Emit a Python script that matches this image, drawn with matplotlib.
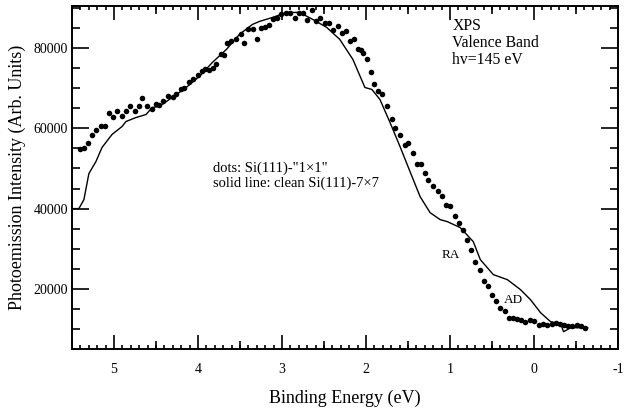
import matplotlib
matplotlib.use("Agg")
import matplotlib.pyplot as plt
from matplotlib.ticker import MultipleLocator, NullFormatter

plt.rcParams["font.family"] = ["Liberation Serif", "DejaVu Serif"]
plt.rcParams["axes.unicode_minus"] = False

# clean Si(111)-7x7, solid line
line_e = [5.51, 5.418, 5.358, 5.299, 5.215, 5.143, 5.024, 4.904, 4.857, 4.737,
          4.618, 4.546, 4.462, 4.307, 4.140, 3.984, 3.829, 3.662, 3.507, 3.351,
          3.268, 3.112, 2.945, 2.790, 2.634, 2.467, 2.312, 2.156, 2.013, 1.930,
          1.834, 1.714, 1.595, 1.476, 1.356, 1.237, 1.117, 1.033, 0.878, 0.723,
          0.639, 0.484, 0.317, 0.161, 0.042, -0.078, -0.197, -0.317, -0.352,
          -0.436, -0.556, -0.639]
line_i = [40000, 40000, 42250, 48740, 51730, 55225, 58470, 60470, 61720, 62710,
          63460, 65200, 65450, 67700, 70200, 72940, 76430, 79680, 83420, 85920,
          86660, 87660, 88900, 88900, 87160, 85160, 82170, 77180, 70190, 69700,
          67200, 61460, 55470, 49230, 42990, 38990, 37250, 36760, 35260, 31770,
          27280, 23540, 22290, 19800, 17300, 14060, 11810, 11310, 9320,
          10310, 10310, 10310]

# Si(111)-"1x1", dots
dot_e = [5.406, 5.358, 5.307, 5.259, 5.209, 5.159, 5.108, 5.060, 5.008, 4.961,
         4.908, 4.860, 4.805, 4.755, 4.705, 4.662, 4.602, 4.550, 4.502, 4.462,
         4.411, 4.355, 4.303, 4.256, 4.203, 4.164, 4.104, 4.065, 4.005, 3.952,
         3.913, 3.865, 3.817, 3.785, 3.725, 3.686, 3.658, 3.606, 3.546, 3.487,
         3.447, 3.407, 3.348, 3.300, 3.247, 3.208, 3.157, 3.109, 3.056, 3.008,
         2.949, 2.909, 2.849, 2.798, 2.750, 2.698, 2.638, 2.599, 2.551, 2.491,
         2.440, 2.392, 2.339, 2.291, 2.240, 2.192, 2.141, 2.093, 2.061, 2.037,
         1.993, 1.945, 1.902, 1.854, 1.806, 1.754, 1.694, 1.655, 1.595, 1.535,
         1.496, 1.443, 1.388, 1.348, 1.296, 1.257, 1.197, 1.145, 1.097, 1.045,
         0.998, 0.946, 0.898, 0.846, 0.798, 0.747, 0.699, 0.648, 0.600, 0.547,
         0.500, 0.448, 0.400, 0.349, 0.301, 0.249, 0.201, 0.149, 0.102, 0.050,
         0.002, -0.057, -0.110, -0.158, -0.209, -0.257, -0.308, -0.356, -0.409,
         -0.456, -0.508, -0.556, -0.607]
dot_i = [54850, 55225, 56470, 58470, 59630, 60640, 60640, 63880, 62880, 64210,
         62960, 64210, 65650, 64210, 65700, 67450, 65530, 64950, 66200, 65950,
         66780, 68020, 67770, 68450, 69870, 70120, 71520, 72190, 73260, 74260,
         74860, 74510, 75110, 75930, 78600, 78250, 81350, 81750, 82350, 83420,
         81350, 84670, 84670, 82170, 85090, 85340, 85660, 87160, 87410, 88410,
         88830, 88830, 87580, 88830, 88660, 86990, 89480, 86740, 87580, 86340,
         86160, 84420, 85490, 83840, 84170, 81750, 82350, 79850, 79430, 78680,
         77180, 74010, 70940, 69270, 68620, 65530, 62390, 60140, 58470, 55980,
         56400, 53900, 51230, 51230, 48910, 47240, 45570, 44320, 43080, 41000,
         40580, 38080, 36440, 34760, 32270, 29780, 26610, 24610, 21870, 20790,
         18540, 16870, 15220, 14380, 12730, 12730, 12480, 12310, 11640, 12310,
         11890, 11060, 11310, 11060, 11310, 11490, 11310, 10890, 10640,
         10640, 10890, 10640, 10240]

half_ticks = [5.5, 4.5, 3.5, 2.5, 1.5, 0.5, -0.5]

fig = plt.figure(figsize=(6.25, 4.15), dpi=100)
ax = fig.add_axes([0.1152, 0.159, 0.8736, 0.8265])

ax.plot(line_e, line_i, color="black", lw=1.0)
ax.plot(dot_e, dot_i, "o", color="black", ms=4.0, mec="none")

ax.set_xlim(5.5, -1)
ax.set_ylim(5000, 90500)

ax.xaxis.set_major_locator(MultipleLocator(1))
ax.xaxis.set_minor_locator(MultipleLocator(0.1))
ax.yaxis.set_major_locator(MultipleLocator(20000))
ax.yaxis.set_minor_locator(MultipleLocator(5000))
ax.tick_params(which="both", direction="in", top=True, right=True, width=1.2)
ax.tick_params(axis="x", which="major", length=10, labelsize=10, pad=10)
ax.tick_params(axis="x", which="minor", length=3)
ax.tick_params(axis="y", which="major", length=12, labelsize=10, pad=3)
ax.tick_params(axis="y", which="minor", length=6)
for sp in ax.spines.values():
    sp.set_linewidth(1.4)

# 0.5 eV ticks, medium length
for side in ("bottom", "top"):
    sec = ax.secondary_xaxis(side)
    sec.set_xticks(half_ticks)
    sec.xaxis.set_major_formatter(NullFormatter())
    sec.tick_params(direction="in", length=6, width=1.2)
    sec.spines[side].set_visible(False)

ax.set_xlabel("Binding Energy (eV)", fontsize=13, labelpad=10)
ax.set_ylabel("Photoemission Intensity (Arb. Units)", fontsize=13, labelpad=5)

ax.text(0.974, 87400, "XPS\nValence Band\nhv=145 eV", fontsize=11.3,
        va="top", ha="left", linespacing=1.08)
ax.text(3.817, 51800, 'dots: Si(111)-"1\u00d71"\nsolid line: clean Si(111)-7\u00d77',
        fontsize=10.5, va="top", ha="left", linespacing=1.15)
ax.text(0.986, 28400, "RA", fontsize=9.5, ha="center", va="center")
ax.text(0.245, 17300, "AD", fontsize=9.5, ha="center", va="center")

fig.savefig("out.png", dpi=100)
